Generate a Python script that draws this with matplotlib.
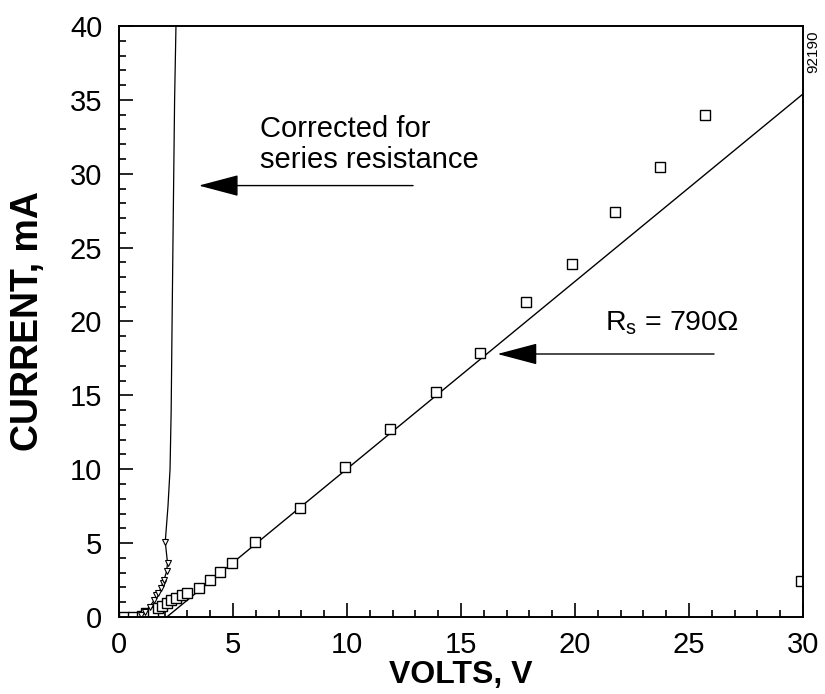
import numpy as np
import matplotlib
matplotlib.use("Agg")
import matplotlib.pyplot as plt
from matplotlib.ticker import MultipleLocator

plt.rcParams['font.family'] = ['Liberation Sans', 'DejaVu Sans']

# measured I-V points (squares)
volts = [0.2, 0.6, 1.0, 1.2, 1.5, 1.7, 1.9, 2.1, 2.3, 2.5, 2.75, 3.0, 3.5, 4.0,
         4.45, 4.95, 5.95, 7.95, 9.9, 11.9, 13.9, 15.85, 17.85, 19.85, 21.75,
         23.75, 25.7, 29.9]
current = [0.0, 0.0, 0.05, 0.25, 0.35, 0.6, 0.75, 0.95, 1.15, 1.3, 1.5, 1.6,
           1.95, 2.5, 3.05, 3.65, 5.1, 7.35, 10.15, 12.75, 15.25, 17.85, 21.3,
           23.9, 27.4, 30.45, 33.95, 2.45]

# corrected for series resistance (triangles)
corr_volts = [0.97, 1.16, 1.35, 1.55, 1.64, 1.73, 1.84, 1.92, 1.97, 2.09, 2.13, 2.03]
corr_current = [0.1, 0.35, 0.7, 1.15, 1.5, 1.6, 1.96, 2.3, 2.47, 3.1, 3.65, 5.08]

# steep part of the corrected curve
curve_volts = [2.03, 2.15, 2.24, 2.29, 2.33, 2.38, 2.44, 2.5]
curve_current = [5.08, 7.5, 10.0, 14.0, 20.0, 27.0, 35.0, 40.0]

# series resistance fit line, 790 ohm
fit_volts = [2.1, 30.0]
fit_current = [0.0, 35.4]

fig = plt.figure(figsize=(8.25, 6.94), dpi=100)
ax = fig.add_axes([0.1442, 0.111, 0.8291, 0.8515])

ax.plot(fit_volts, fit_current, color='black', lw=1.0)
ax.plot(corr_volts + curve_volts[1:], corr_current + curve_current[1:],
        color='black', lw=0.9)
ax.plot(volts, current, ls='none', marker='s', ms=7, mfc='white',
        mec='black', mew=1.0)
ax.plot(corr_volts, corr_current, ls='none', marker='v', ms=4.5, mfc='white',
        mec='black', mew=0.8)

ax.set_xlim(0, 30)
ax.set_ylim(0, 40)
ax.xaxis.set_major_locator(MultipleLocator(5))
ax.xaxis.set_minor_locator(MultipleLocator(1))
ax.yaxis.set_major_locator(MultipleLocator(5))
ax.yaxis.set_minor_locator(MultipleLocator(1))
ax.tick_params(which='both', direction='in', top=False, right=False,
               labelsize=21, width=1.2)
ax.tick_params(which='major', length=10)
ax.tick_params(which='minor', length=5)
ax.tick_params(axis='x', which='major', pad=10)
ax.tick_params(axis='y', which='major', pad=12)
for s in ax.spines.values():
    s.set_linewidth(1.4)

ax.set_xlabel('VOLTS, V', fontsize=23, fontweight='heavy', labelpad=1)
ax.set_ylabel('CURRENT, mA', fontsize=27, fontweight='heavy', labelpad=17)

arrow = dict(arrowstyle='-|>,head_length=1.7,head_width=0.45', lw=1.0,
             color='black', mutation_scale=15, shrinkA=0, shrinkB=0)
ax.annotate('', xy=(3.5, 29.2), xytext=(12.9, 29.2), arrowprops=arrow)
ax.text(6.2, 33.0, 'Corrected for', fontsize=21, va='center', ha='left')
ax.text(6.2, 30.9, 'series resistance', fontsize=21, va='center', ha='left')

ax.annotate('', xy=(16.6, 17.8), xytext=(26.1, 17.8), arrowprops=arrow)
ax.text(21.3, 19.9, 'R$_\\mathregular{s}$ = 790Ω', fontsize=20.5, va='center', ha='left')

fig.text(813 / 825, 1 - 52 / 694, '92190', rotation=90, fontsize=11,
         ha='center', va='center')

fig.savefig('out.png', dpi=100)
